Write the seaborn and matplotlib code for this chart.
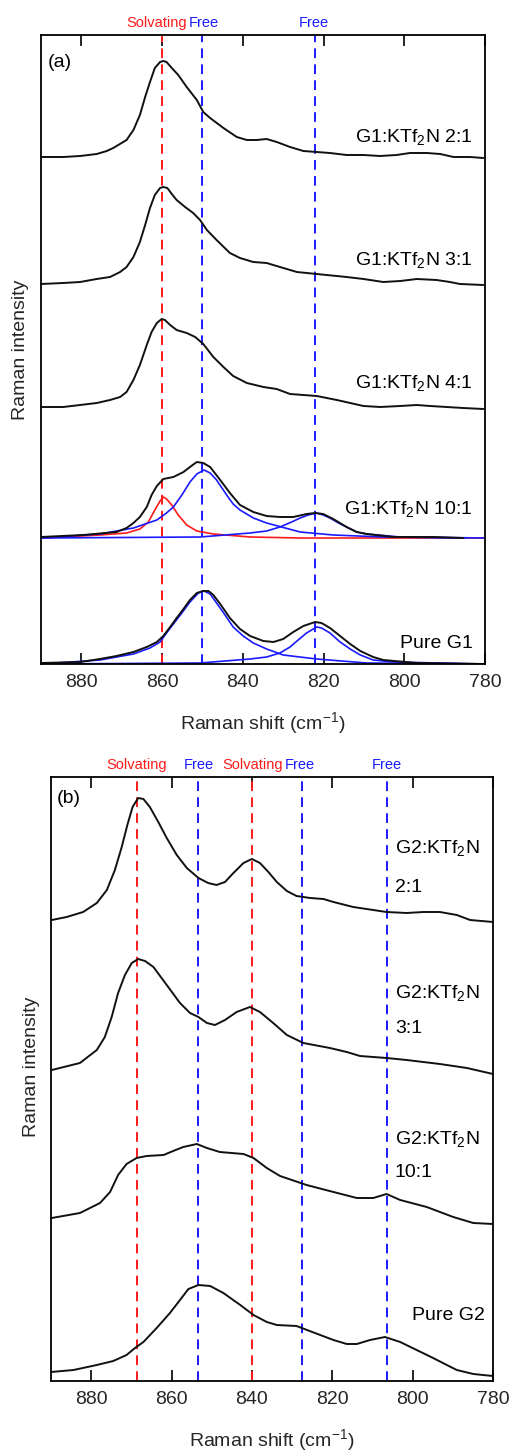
import matplotlib
matplotlib.use('Agg')
import matplotlib.pyplot as plt
import matplotlib.transforms as mtransforms
import seaborn as sns
import pandas as pd

sns.set_theme(style='white')
plt.rcParams['font.family'] = ['Liberation Sans', 'DejaVu Sans']
plt.rcParams['mathtext.fontset'] = 'custom'
plt.rcParams['mathtext.rm'] = 'Liberation Sans'
plt.rcParams['mathtext.it'] = 'Liberation Sans:italic'
plt.rcParams['mathtext.bf'] = 'Liberation Sans:bold'

# ---------------- Panel (a) data (Raman shift cm-1, intensity a.u. incl. vertical offsets) ----------------
a_21_x = [890, 884.5, 880.3, 876.2, 873.7, 872.1, 868.8, 867.1, 865.5, 864.2, 863, 861.8, 860.5, 859.7, 858.9, 857.6, 856, 853.9, 851.4, 849.8, 848.1, 844.8, 841.5, 839, 836.6, 834.1, 831.6, 828.3, 825, 821.7, 818.4, 814.3, 810.1, 806, 801.9, 798.6, 794.4, 791.1, 787.8, 783.7, 780.4]
a_21_y = [507, 507, 508, 510, 513, 516, 524, 534, 549, 567, 582, 596, 602, 603, 602, 596, 589, 577, 564, 552, 546, 536, 527, 524, 524, 525, 522, 517, 513, 512, 511, 509, 509, 508, 509, 511, 511, 510, 507, 507, 506]

a_31_x = [890, 884.5, 880.3, 876.2, 872.9, 870.4, 868.8, 867.1, 865.5, 864.2, 863, 861.8, 860.5, 859.7, 858.7, 857.6, 856.4, 854.3, 852.3, 850.6, 848.9, 846.5, 843.2, 840.7, 837.4, 834.1, 830.8, 826.6, 821.7, 814.3, 810.1, 805.2, 801, 796.9, 792, 788.7, 786.2, 780.4]
a_31_y = [380, 381, 382, 385, 387, 392, 397, 407, 422, 439, 456, 469, 476, 477, 476, 470, 464, 457, 451, 444, 434, 424, 411, 406, 402, 401, 397, 392, 390, 387, 385, 382, 383, 385, 384, 382, 380, 379]

a_41_x = [890, 884.5, 880.3, 876.2, 872.9, 870.4, 868.8, 867.1, 865.5, 863.8, 862.6, 861.3, 860.1, 859.3, 858, 856.4, 853.9, 851.8, 849.8, 847.3, 844.8, 842.4, 839, 834.9, 831.6, 828.3, 821.7, 816.7, 813.4, 810.1, 806, 801, 796.9, 793.6, 789.5, 785.4, 780.4]
a_41_y = [257, 257, 259, 261, 264, 267, 272, 284, 299, 319, 332, 341, 345, 344, 339, 334, 331, 327, 320, 307, 297, 288, 281, 277, 275, 270, 268, 264, 261, 258, 257, 258, 259, 258, 257, 256, 255]

a_101_x = [890, 879.5, 871.3, 868.8, 867.1, 865.5, 863.8, 862.6, 861.3, 859.7, 857.2, 854.7, 853.1, 851.4, 849.8, 848.1, 845.6, 843.2, 840.7, 837.4, 834.1, 830.8, 827.5, 824.2, 822.1, 820.1, 817.6, 814.3, 811.8, 809.3, 802.7, 792.8, 785.4]
a_101_y = [127, 129, 132, 136, 141, 147, 157, 169, 178, 185, 187, 192, 197, 202, 201, 197, 184, 171, 159, 152, 148, 147, 147, 150, 151, 150, 145, 137, 132, 130, 127, 127, 126]
a_101_solv_x = [890, 875.4, 868.8, 865.5, 863.4, 861.8, 860.5, 859.7, 858.9, 857.6, 856, 853.9, 851.4, 847.3, 838.2, 825.8, 780]
a_101_solv_y = [126, 129, 131, 135, 142, 154, 163, 167, 165, 159, 149, 139, 133, 130, 127, 126, 126]
a_101_free1_x = [890, 875.4, 867.1, 861.3, 858.9, 857.2, 855.1, 853.1, 851.4, 849.6, 848.1, 846.5, 844, 842.4, 840.7, 837.4, 834.1, 825.8, 817.6, 805.2, 784.6]
a_101_free1_y = [126, 130, 136, 144, 151, 157, 169, 182, 190, 194, 191, 184, 169, 160, 154, 146, 141, 132, 129, 127, 126]
a_101_free2_x = [890, 850.6, 838.2, 834.1, 830.8, 827.9, 825.8, 823.8, 821.7, 820.1, 818.4, 816.3, 814.3, 811.8, 809.3, 801, 780]
a_101_free2_y = [126, 127, 131, 133, 137, 142, 146, 149, 151, 149, 146, 141, 137, 132, 130, 127, 126]

a_pure_x = [890, 880.3, 875.4, 871.3, 867.1, 863.8, 861.3, 859.7, 858, 856.4, 854.7, 853.1, 851.4, 849.8, 848.5, 847.3, 845.6, 843.2, 840.7, 838.2, 834.9, 832.4, 830, 827.5, 825, 822.1, 820.5, 818.4, 815.9, 813.4, 810.9, 807.7, 805.2, 796.9, 780]
a_pure_y = [1, 2, 5, 8, 12, 17, 22, 28, 37, 46, 55, 64, 71, 73, 73, 69, 60, 46, 35, 28, 23, 22, 25, 32, 38, 42, 41, 36, 28, 20, 13, 7, 4, 1, 0]
a_pure_free1_x = [890, 875.4, 867.1, 863, 860.5, 858.9, 857.2, 855.1, 853.1, 851, 849.6, 848.1, 846.5, 844.4, 842.4, 839.9, 837.4, 834.1, 830, 821.7, 809.3, 780]
a_pure_free1_y = [0, 4, 10, 16, 22, 31, 40, 51, 62, 71, 73, 70, 61, 49, 37, 28, 21, 15, 9, 5, 1, 0]
a_pure_free2_x = [890, 850.6, 838.2, 834.1, 830.8, 828.3, 826.3, 824.2, 821.7, 820.5, 818.4, 815.9, 813.4, 810.9, 807.7, 802.7, 780]
a_pure_free2_y = [0, 1, 5, 7, 11, 17, 24, 31, 37, 36, 31, 22, 15, 9, 4, 2, 0]

a_names = ['G1:KTf$_2$N 2:1', 'G1:KTf$_2$N 3:1', 'G1:KTf$_2$N 4:1', 'G1:KTf$_2$N 10:1', 'Pure G1']
a_name_y = [522, 399, 276, 150, 16]
a_marks = [860, 850, 822]
a_mark_colors = ['#ff1a1a', '#1a1aff', '#1a1aff']
a_mark_text = ['Solvating', 'Free', 'Free']
a_mark_text_x = [861.3, 849.6, 822.4]

# ---------------- Panel (b) data ----------------
b_21_x = [889.8, 886.1, 882, 878.6, 876.1, 874.1, 872.4, 871, 869.7, 868.3, 867, 865.4, 863.3, 861.2, 858.7, 856.2, 853.3, 850.9, 848.8, 846.7, 844.6, 842.1, 840, 838, 835.9, 833.8, 831.3, 828.9, 825.5, 822.2, 819.7, 814.8, 809.8, 806.5, 801.5, 797.3, 793.2, 789, 785.7, 780]
b_21_y = [461, 464, 469, 478, 491, 511, 534, 556, 574, 583, 582, 574, 559, 543, 526, 513, 503, 498, 496, 499, 508, 518, 522, 518, 509, 499, 490, 485, 483, 482, 479, 474, 471, 469, 468, 469, 469, 466, 461, 459]

b_31_x = [889.8, 882.8, 878.6, 876.6, 874.9, 873.3, 871.6, 869.9, 868.3, 866.6, 864.5, 861.2, 857.9, 855.4, 853.3, 851.2, 849.2, 846.7, 843.8, 840.5, 838, 834.7, 831.3, 827.2, 820.6, 816.4, 813.1, 809.8, 806.5, 801.5, 793.2, 786.5, 780]
b_31_y = [311, 318, 331, 344, 364, 388, 406, 418, 422, 420, 414, 396, 378, 368, 364, 358, 356, 361, 369, 374, 369, 358, 346, 338, 333, 329, 325, 324, 323, 321, 317, 313, 307]

b_101_x = [889.8, 882.8, 877.8, 875.3, 873.3, 871.2, 868.7, 866.2, 862, 859.6, 857.1, 853.7, 851.2, 848, 842.1, 839.6, 836.3, 833, 826.4, 819.7, 813.9, 809.8, 806.5, 803.1, 796.5, 789.9, 784.9, 780]
b_101_y = [163, 168, 178, 189, 206, 217, 223, 225, 226, 230, 234, 237, 233, 229, 227, 223, 213, 205, 196, 189, 183, 183, 187, 181, 174, 164, 158, 157]

b_pure_x = [890, 884.4, 878.6, 874.5, 871.2, 869.1, 867, 863.7, 860.4, 857.9, 855.8, 853.3, 850.4, 847.1, 842.9, 839.6, 836.3, 833.8, 828.9, 823, 819.7, 816.4, 813.9, 810.6, 806.9, 803.1, 799, 794.9, 791.5, 789, 784.9, 780]
b_pure_y = [9, 11, 16, 20, 26, 33, 39, 53, 68, 81, 92, 96, 95, 88, 76, 66, 59, 56, 55, 46, 41, 37, 37, 41, 44, 39, 31, 23, 16, 11, 7, 5]

b_names_top = ['G2:KTf$_2$N', 'G2:KTf$_2$N', 'G2:KTf$_2$N']
b_names_bottom = ['2:1', '3:1', '10:1']
b_name_top_y = [528, 383, 237]
b_name_bottom_y = [489, 348, 204]
b_pure_name = 'Pure G2'
b_pure_name_y = 61
b_marks = [868.5, 853.3, 840, 827.6, 806.5]
b_mark_colors = ['#ff1a1a', '#1a1aff', '#ff1a1a', '#1a1aff', '#1a1aff']
b_mark_text = ['Solvating', 'Free', 'Solvating', 'Free', 'Free']
b_mark_text_x = [868.8, 853.2, 839.7, 828.0, 806.4]

xticks = [880, 860, 840, 820, 800, 780]

BLACK = '#111111'
RED = '#ff1a1a'
BLUE = '#1a1aff'
FS = 14

fig = plt.figure(figsize=(5.11, 14.54), dpi=100)
axa = fig.add_axes([41 / 511, 790 / 1454, 444 / 511, 629 / 1454])
axb = fig.add_axes([51 / 511, 73 / 1454, 442 / 511, 604 / 1454])


def draw(ax, x, y, color, lw=1.4):
    df = pd.DataFrame({'x': x, 'y': y})
    sns.lineplot(data=df, x='x', y='y', ax=ax, color=color, lw=lw, sort=False,
                 estimator=None, clip_on=True)


def style(ax, ylim_top):
    ax.set_xlim(890, 780)
    ax.set_ylim(0, ylim_top)
    ax.set_xticks(xticks)
    ax.set_xticklabels([str(t) for t in xticks])
    ax.set_yticks([])
    ax.tick_params(axis='x', direction='in', top=True, bottom=True, labeltop=False,
                   length=8, width=1.2, color='black', labelsize=FS, pad=7)
    for s in ax.spines.values():
        s.set_color('black')
        s.set_linewidth(1.3)
    ax.set_xlabel('Raman shift (cm$^{-1}$)', fontsize=FS)
    ax.set_ylabel('Raman intensity', fontsize=FS, va='center')


# ---- panel (a)
for xm, c in zip(a_marks, a_mark_colors):
    axa.axvline(xm, color=c, lw=1.4, ls=(0, (5, 3.2)), zorder=1)
trans_a = mtransforms.blended_transform_factory(axa.transData, axa.transAxes)
for xt, t, c in zip(a_mark_text_x, a_mark_text, a_mark_colors):
    axa.text(xt, 1.019, t, color=c, fontsize=10.5, ha='center', va='center', transform=trans_a)

draw(axa, a_21_x, a_21_y, BLACK)
draw(axa, a_31_x, a_31_y, BLACK)
draw(axa, a_41_x, a_41_y, BLACK)
draw(axa, a_101_solv_x, a_101_solv_y, RED, 1.2)
draw(axa, a_101_free1_x, a_101_free1_y, BLUE, 1.2)
draw(axa, a_101_free2_x, a_101_free2_y, BLUE, 1.2)
draw(axa, a_101_x, a_101_y, BLACK)
draw(axa, a_pure_free1_x, a_pure_free1_y, BLUE, 1.2)
draw(axa, a_pure_free2_x, a_pure_free2_y, BLUE, 1.2)
draw(axa, a_pure_x, a_pure_y, BLACK)
for name, yy in zip(a_names, a_name_y):
    axa.text(783, yy, name, fontsize=FS, ha='right', va='baseline', color='black')
axa.text(888.3, 597, '(a)', fontsize=FS, ha='left', va='baseline', color='black')
style(axa, 629)
axa.xaxis.set_label_coords(0.5, -0.073)
axa.yaxis.set_label_coords(-0.047, 0.5)

# ---- panel (b)
for xm, c in zip(b_marks, b_mark_colors):
    axb.axvline(xm, color=c, lw=1.4, ls=(0, (5, 3.2)), zorder=1)
trans_b = mtransforms.blended_transform_factory(axb.transData, axb.transAxes)
for xt, t, c in zip(b_mark_text_x, b_mark_text, b_mark_colors):
    axb.text(xt, 1.020, t, color=c, fontsize=10.5, ha='center', va='center', transform=trans_b)

draw(axb, b_21_x, b_21_y, BLACK)
draw(axb, b_31_x, b_31_y, BLACK)
draw(axb, b_101_x, b_101_y, BLACK)
draw(axb, b_pure_x, b_pure_y, BLACK)
for t1, t2, y1, y2 in zip(b_names_top, b_names_bottom, b_name_top_y, b_name_bottom_y):
    axb.text(804.4, y1, t1, fontsize=FS, ha='left', va='baseline', color='black')
    axb.text(804.4, y2, t2, fontsize=FS, ha='left', va='baseline', color='black')
axb.text(782, b_pure_name_y, b_pure_name, fontsize=FS, ha='right', va='baseline', color='black')
axb.text(888.5, 578, '(b)', fontsize=FS, ha='left', va='baseline', color='black')
style(axb, 604)
axb.xaxis.set_label_coords(0.5, -0.077)
axb.yaxis.set_label_coords(-0.045, 0.52)

for ax in (axa, axb):
    leg = ax.get_legend()
    if leg is not None:
        leg.remove()

fig.savefig('out.png', dpi=100)
